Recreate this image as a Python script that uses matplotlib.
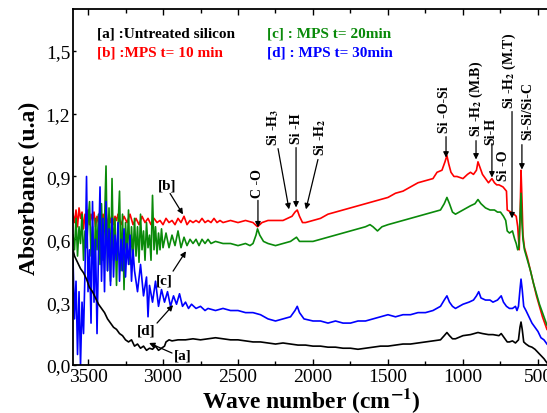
import numpy as np
import matplotlib
matplotlib.use("Agg")
import matplotlib.pyplot as plt
from matplotlib.ticker import MultipleLocator, FuncFormatter

plt.rcParams['font.family'] = ['Liberation Serif', 'DejaVu Serif']
plt.rcParams['mathtext.fontset'] = 'stix'

# ---- data (wave number, absorbance) ----
# [a] untreated silicon (black)
a_wn = [3600, 3590, 3570, 3550, 3530, 3510, 3490, 3470, 3450, 3430, 3410, 3390, 3370, 3350,
        3330, 3310, 3290, 3270, 3250, 3230, 3210, 3190, 3170, 3150, 3130, 3110, 3090, 3070,
        3050, 3030, 3010, 2990, 2980, 2960, 2940, 2900, 2850, 2800, 2750, 2700, 2650, 2600,
        2550, 2500, 2450, 2400, 2350, 2300, 2250, 2200, 2150, 2100, 2050, 2000, 1950, 1900,
        1850, 1800, 1750, 1700, 1650, 1600, 1550, 1500, 1450, 1400, 1350, 1300, 1250, 1200,
        1150, 1125, 1107, 1090, 1070, 1050, 1000, 950, 900, 870, 830, 800, 760, 745, 725, 705,
        690, 670, 650, 630, 620, 613, 605, 595, 580, 560, 540, 520, 500, 480, 460, 440]
a_abs = [0.55, 0.52, 0.49, 0.46, 0.44, 0.41, 0.37, 0.35, 0.32, 0.29, 0.27, 0.25, 0.22, 0.20,
         0.18, 0.17, 0.15, 0.14, 0.12, 0.11, 0.12, 0.09, 0.10, 0.08, 0.09, 0.07, 0.08, 0.075,
         0.09, 0.07, 0.08, 0.09, 0.11, 0.12, 0.115, 0.12, 0.12, 0.125, 0.12, 0.125, 0.13, 0.125,
         0.12, 0.12, 0.115, 0.11, 0.11, 0.105, 0.10, 0.105, 0.10, 0.095, 0.095, 0.09, 0.09, 0.085,
         0.085, 0.08, 0.08, 0.075, 0.08, 0.085, 0.09, 0.09, 0.095, 0.10, 0.10, 0.105, 0.11, 0.115,
         0.12, 0.14, 0.155, 0.14, 0.125, 0.125, 0.14, 0.145, 0.155, 0.15, 0.145, 0.145, 0.14, 0.15, 0.13, 0.11,
         0.11, 0.115, 0.105, 0.12, 0.18, 0.205, 0.17, 0.11, 0.10, 0.09, 0.085, 0.075, 0.06, 0.045, 0.03, 0.01]

# [b] MPS t = 10 min (red)
b_wn = [3600, 3590, 3580, 3570, 3560, 3550, 3540, 3530, 3520, 3510, 3500, 3490, 3480, 3470,
        3460, 3450, 3440, 3430, 3420, 3410, 3400, 3390, 3380, 3370, 3360, 3350, 3340, 3330,
        3320, 3310, 3300, 3280, 3260, 3240, 3220, 3200, 3180, 3160, 3140, 3120, 3100, 3080,
        3060, 3040, 3020, 3000, 2980, 2960, 2940, 2920, 2900, 2880, 2860, 2840, 2820, 2800,
        2780, 2760, 2740, 2720, 2700, 2680, 2660, 2640, 2620, 2600, 2550, 2500, 2450, 2400,
        2370, 2340, 2300, 2250, 2200, 2170, 2140, 2120, 2105, 2090, 2070, 2050, 2000, 1950,
        1900, 1850, 1800, 1750, 1700, 1650, 1600, 1550, 1500, 1450, 1400, 1350, 1300, 1250,
        1200, 1173, 1140, 1120, 1107, 1095, 1080, 1060, 1040, 1000, 970, 950, 930, 910, 900,
        890, 870, 850, 830, 807, 790, 775, 760, 733, 710, 705, 680, 660, 645, 635, 625, 618,
        613, 607, 600, 590, 570, 550, 530, 510, 490, 470, 450, 440]
b_abs = [0.72, 0.68, 0.74, 0.66, 0.75, 0.70, 0.73, 0.65, 0.72, 0.68, 0.74, 0.67, 0.72, 0.69,
         0.73, 0.66, 0.71, 0.68, 0.74, 0.67, 0.72, 0.69, 0.73, 0.66, 0.71, 0.68, 0.72, 0.67,
         0.71, 0.69, 0.72, 0.67, 0.71, 0.68, 0.72, 0.67, 0.70, 0.67, 0.71, 0.68, 0.70, 0.67,
         0.70, 0.68, 0.69, 0.67, 0.70, 0.68, 0.69, 0.67, 0.70, 0.68, 0.71, 0.67, 0.69, 0.68,
         0.69, 0.68, 0.70, 0.68, 0.69, 0.68, 0.70, 0.68, 0.69, 0.68, 0.69, 0.68, 0.69, 0.68,
         0.66, 0.68, 0.69, 0.69, 0.69, 0.70, 0.71, 0.73, 0.74, 0.71, 0.68, 0.68, 0.69, 0.70,
         0.72, 0.73, 0.74, 0.75, 0.76, 0.77, 0.78, 0.79, 0.80, 0.82, 0.83, 0.85, 0.87, 0.88,
         0.89, 0.92, 0.93, 0.97, 1.00, 0.96, 0.92, 0.90, 0.90, 0.89, 0.91, 0.92, 0.91, 0.93, 0.97,
         0.95, 0.91, 0.89, 0.87, 0.89, 0.87, 0.86, 0.86, 0.85, 0.83, 0.74, 0.73, 0.72, 0.71, 0.66, 0.55, 0.75,
         0.93, 0.80, 0.62, 0.56, 0.51, 0.45, 0.39, 0.33, 0.28, 0.23, 0.19, 0.17]

# [c] MPS t = 20 min (green)
c_wn = [3600, 3590, 3580, 3570, 3560, 3550, 3540, 3530, 3520, 3510, 3500, 3490, 3480, 3470,
        3460, 3450, 3440, 3430, 3420, 3410, 3400, 3390, 3380, 3370, 3360, 3350, 3340, 3330,
        3320, 3310, 3300, 3290, 3280, 3270, 3260, 3250, 3240, 3230, 3220, 3210, 3200, 3190,
        3180, 3170, 3160, 3150, 3140, 3130, 3120, 3110, 3100, 3090, 3080, 3070, 3060, 3050,
        3040, 3030, 3020, 3010, 3000, 2980, 2960, 2940, 2920, 2900, 2880, 2860, 2840, 2820,
        2800, 2780, 2760, 2740, 2720, 2700, 2680, 2650, 2600, 2550, 2500, 2450, 2420, 2400,
        2380, 2370, 2355, 2330, 2300, 2250, 2200, 2150, 2110, 2090, 2050, 2000, 1950, 1900,
        1850, 1800, 1750, 1700, 1650, 1620, 1600, 1570, 1540, 1500, 1450, 1400, 1350, 1300,
        1250, 1200, 1150, 1125, 1107, 1090, 1070, 1050, 1000, 950, 920, 900, 880, 850, 820,
        790, 770, 750, 730, 715, 705, 690, 670, 655, 645, 635, 628, 620, 613, 607, 600, 590,
        570, 550, 530, 510, 490, 470, 450, 440]
c_abs = [0.62, 0.55, 0.70, 0.52, 0.66, 0.58, 0.72, 0.50, 0.64, 0.56, 0.68, 0.78, 0.52, 0.66,
         0.45, 0.70, 0.55, 0.72, 0.48, 0.77, 0.50, 0.68, 0.95, 0.45, 0.75, 0.40, 0.89, 0.50,
         0.70, 0.38, 0.66, 0.83, 0.45, 0.72, 0.36, 0.68, 0.52, 0.74, 0.48, 0.66, 0.50, 0.70,
         0.52, 0.66, 0.49, 0.72, 0.55, 0.64, 0.50, 0.68, 0.56, 0.62, 0.50, 0.81, 0.55, 0.66,
         0.53, 0.63, 0.55, 0.65, 0.56, 0.63, 0.56, 0.62, 0.57, 0.64, 0.56, 0.61, 0.57, 0.60,
         0.58, 0.60, 0.57, 0.60, 0.58, 0.60, 0.58, 0.59, 0.58, 0.58, 0.57, 0.58, 0.57, 0.58,
         0.62, 0.65, 0.62, 0.59, 0.58, 0.57, 0.58, 0.59, 0.61, 0.59, 0.59, 0.59, 0.60, 0.61,
         0.62, 0.63, 0.64, 0.65, 0.66, 0.67, 0.66, 0.64, 0.66, 0.67, 0.68, 0.69, 0.70, 0.71,
         0.72, 0.73, 0.74, 0.77, 0.80, 0.77, 0.73, 0.72, 0.74, 0.76, 0.77, 0.79, 0.77, 0.75, 0.74,
         0.74, 0.73, 0.73, 0.71, 0.69, 0.64, 0.63, 0.64, 0.60, 0.58, 0.55, 0.56, 0.70, 0.82, 0.68, 0.60, 0.55,
         0.50, 0.45, 0.39, 0.34, 0.29, 0.25, 0.21, 0.19]

# [d] MPS t = 30 min (blue)
d_wn = [3600, 3590, 3580, 3570, 3560, 3550, 3540, 3530, 3520, 3510, 3500, 3490, 3480, 3470,
        3460, 3450, 3440, 3430, 3420, 3410, 3400, 3390, 3380, 3370, 3360, 3350, 3340, 3330,
        3320, 3310, 3300, 3290, 3280, 3270, 3260, 3250, 3240, 3230, 3220, 3210, 3200, 3190,
        3170, 3150, 3130, 3110, 3100, 3090, 3070, 3050, 3030, 3010, 2990, 2970, 2950, 2930,
        2910, 2890, 2870, 2850, 2830, 2810, 2780, 2750, 2720, 2700, 2650, 2600, 2550, 2500,
        2450, 2400, 2350, 2300, 2250, 2200, 2150, 2120, 2105, 2090, 2060, 2000, 1950, 1900,
        1850, 1800, 1750, 1700, 1650, 1600, 1550, 1500, 1450, 1400, 1350, 1300, 1250, 1200,
        1150, 1125, 1107, 1090, 1070, 1050, 1000, 960, 930, 910, 895, 880, 850, 820, 800, 770,
        745, 730, 710, 690, 670, 650, 640, 630, 620, 613, 605, 595, 580, 560, 540, 520, 500,
        480, 460, 440]
d_abs = [0.50, 0.22, 0.40, 0.05, 0.35, 0.00, 0.30, 0.15, 0.45, 0.90, 0.35, 0.55, 0.20, 0.78,
         0.30, 0.60, 0.15, 0.55, 0.85, 0.40, 0.70, 0.35, 0.78, 0.45, 0.65, 0.38, 0.70, 0.42,
         0.62, 0.50, 0.68, 0.40, 0.60, 0.45, 0.65, 0.42, 0.58, 0.48, 0.62, 0.40, 0.55, 0.45,
         0.35, 0.48, 0.33, 0.42, 0.23, 0.38, 0.30, 0.40, 0.28, 0.36, 0.30, 0.35, 0.28, 0.33,
         0.29, 0.34, 0.28, 0.30, 0.27, 0.29, 0.27, 0.28, 0.26, 0.27, 0.26, 0.27, 0.26, 0.26,
         0.25, 0.25, 0.24, 0.22, 0.21, 0.22, 0.23, 0.26, 0.28, 0.25, 0.22, 0.21, 0.21, 0.20,
         0.21, 0.20, 0.20, 0.21, 0.21, 0.22, 0.23, 0.24, 0.23, 0.24, 0.24, 0.25, 0.25, 0.26,
         0.28, 0.31, 0.33, 0.30, 0.28, 0.27, 0.29, 0.30, 0.31, 0.33, 0.35, 0.32, 0.31, 0.31, 0.30, 0.31,
         0.33, 0.30, 0.28, 0.27, 0.27, 0.28, 0.26, 0.28, 0.36, 0.41, 0.36, 0.28, 0.26, 0.23, 0.20, 0.18, 0.16,
         0.13, 0.12, 0.10]

x_ticks = [3500, 3000, 2500, 2000, 1500, 1000, 500]
y_ticks = [0.0, 0.3, 0.6, 0.9, 1.2, 1.5]

red = '#ff0000'
green = '#0a8a0a'
blue = '#0000ff'

fig = plt.figure(figsize=(5.47, 4.14), dpi=100)
ax = fig.add_axes([0.1335, 0.116, 0.870, 0.860])

ax.plot(b_wn, b_abs, color=red, lw=1.2)
ax.plot(c_wn, c_abs, color=green, lw=1.2)
ax.plot(d_wn, d_abs, color=blue, lw=1.2)
ax.plot(a_wn, a_abs, color='black', lw=1.2)

ax.set_xlim(3600, 427)
ax.set_ylim(0, 1.7)
ax.set_xticks(x_ticks)
ax.xaxis.set_minor_locator(MultipleLocator(250))
ax.set_yticks(y_ticks)
ax.yaxis.set_major_formatter(FuncFormatter(lambda v, p: ('%.1f' % v).replace('.', ',')))
ax.tick_params(which='both', direction='in', top=True, right=False, labelsize=14, pad=2)
ax.tick_params(which='major', length=4, width=1)
ax.tick_params(which='minor', length=3, width=1)
ax.tick_params(axis='y', length=2)
for s in ax.spines.values():
    s.set_linewidth(1.3)

ax.set_xlabel(r'Wave number (cm$^{\mathbf{-1}}$)', fontsize=17, fontweight='bold', labelpad=0)
ax.set_ylabel('Absorbance (u.a)', fontsize=17, fontweight='bold', labelpad=4)

# legend texts
ax.text(3440, 1.586, '[a] :Untreated silicon', color='black', fontsize=11, fontweight='bold', va='center')
ax.text(3440, 1.495, '[b] :MPS t= 10 min', color=red, fontsize=11, fontweight='bold', va='center')
ax.text(2307, 1.586, '[c] : MPS t= 20min', color=green, fontsize=11, fontweight='bold', va='center')
ax.text(2307, 1.495, '[d] : MPS t= 30min', color=blue, fontsize=11, fontweight='bold', va='center')

arrow = dict(arrowstyle='-|>', color='black', lw=0.9, mutation_scale=8, shrinkA=0, shrinkB=0)

# band assignments (text centre, arrow start, arrow tip)
bands = [
    ('C -O', (2367, 0.871), (2367, 0.786), (2367, 0.657)),
    (r'Si -H$_\mathbf{3}$', (2267, 1.138), (2233, 1.033), (2160, 0.743)),
    ('Si -H', (2113, 1.133), (2113, 1.038), (2113, 0.752)),
    (r'Si -H$_\mathbf{2}$', (1953, 1.090), (1967, 0.981), (2047, 0.743)),
    ('Si -O-Si', (1120, 1.224), (1113, 1.090), (1113, 0.990)),
    (r'Si -H$_\mathbf{2}$ (M.B)', (913, 1.276), (913, 1.071), (913, 0.981)),
    ('Si-H', (813, 1.119), (807, 1.057), (807, 0.895)),
    ('Si -O', (733, 0.957), None, None),
    (r'Si -H$_\mathbf{2}$ (M.T)', (693, 1.410), (673, 1.210), (673, 0.700)),
    ('Si-Si/Si-C', (567, 1.219), (607, 1.052), (607, 0.933)),
]
for txt, pos, start, tip in bands:
    ax.text(pos[0], pos[1], txt, rotation=90, ha='center', va='center',
            fontsize=10, fontweight='bold')
    if start is not None:
        ax.annotate('', xy=tip, xytext=start, arrowprops=arrow)

# curve labels
labels = [
    ('[b]', (2973, 0.857), (2953, 0.819), (2867, 0.719)),
    ('[c]', (2993, 0.405), (2933, 0.448), (2847, 0.543)),
    ('[d]', (3113, 0.167), (3040, 0.200), (2933, 0.286)),
    ('[a]', (2867, 0.048), (2940, 0.057), (3093, 0.105)),
]
for txt, pos, start, tip in labels:
    ax.text(pos[0], pos[1], txt, ha='center', va='center', fontsize=11, fontweight='bold')
    ax.annotate('', xy=tip, xytext=start, arrowprops=arrow)

plt.savefig('out.png', dpi=100)
